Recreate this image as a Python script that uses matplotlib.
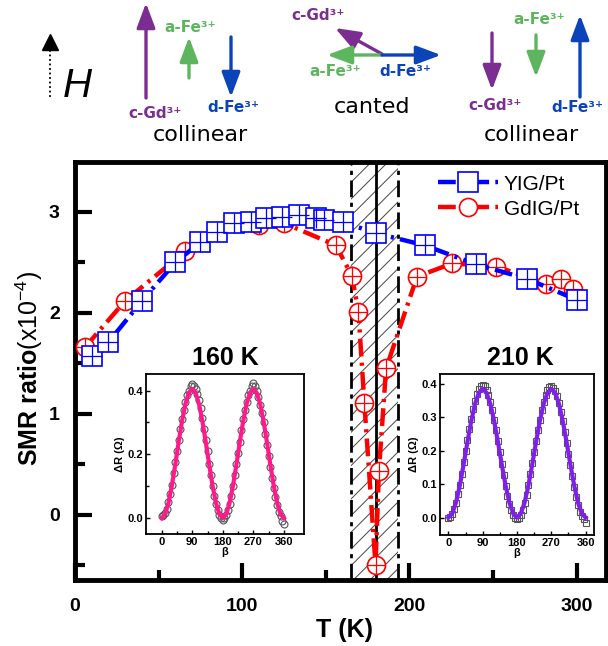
import matplotlib
matplotlib.use("Agg")
import matplotlib.pyplot as plt
from matplotlib.patches import FancyArrowPatch

plt.rcParams['font.family'] = ['Liberation Sans', 'DejaVu Sans']
plt.rcParams['mathtext.fontset'] = 'custom'
plt.rcParams['mathtext.rm'] = 'Liberation Sans'
plt.rcParams['hatch.linewidth'] = 0.7
plt.rcParams['hatch.color'] = '#444444'

# ---------------- data ----------------
yig_T = [10, 20, 40, 60, 75, 85, 95, 105, 114, 124, 134, 144, 149, 160, 180, 209, 240, 270, 300]
yig_smr = [1.57, 1.71, 2.12, 2.50, 2.70, 2.80, 2.89, 2.90, 2.94, 2.95, 2.97, 2.94, 2.92, 2.90,
           2.79, 2.67, 2.48, 2.34, 2.13]

gdig_T = [6, 30, 66, 96, 110, 125, 156, 165.5, 169.5, 173, 179.7, 181.7, 186, 204.5, 225.5,
          252, 281.5, 290.5, 297.5]
gdig_smr = [1.66, 2.12, 2.61, 2.89, 2.87, 2.89, 2.67, 2.37, 2.01, 1.11, -0.50, 0.43, 1.45, 2.36,
            2.49, 2.46, 2.29, 2.34, 2.24]

band_T = [165, 193]
comp_T = 180

x_ticks = [0, 100, 200, 300]
y_ticks = [0, 1, 2, 3]

beta_pts = [0, 5, 10, 15, 20, 25, 30, 35, 40, 45, 50, 55, 60, 65, 70, 75, 80, 85, 90,
            95, 100, 105, 110, 115, 120, 125, 130, 135, 140, 145, 150, 155, 160, 165, 170, 175, 180,
            185, 190, 195, 200, 205, 210, 215, 220, 225, 230, 235, 240, 245, 250, 255, 260, 265, 270,
            275, 280, 285, 290, 295, 300, 305, 310, 315, 320, 325, 330, 335, 340, 345, 350, 355, 360]
dR_160 = [0.005, 0.01, 0.015, 0.03, 0.05, 0.075, 0.105, 0.14, 0.175, 0.21, 0.245, 0.28, 0.31,
          0.34, 0.365, 0.385, 0.40, 0.415, 0.42, 0.415, 0.405, 0.39, 0.37, 0.345, 0.315, 0.28,
          0.245, 0.21, 0.17, 0.135, 0.10, 0.07, 0.045, 0.025, 0.01, 0.0, -0.005, 0.0, 0.01, 0.025,
          0.045, 0.07, 0.10, 0.135, 0.17, 0.205, 0.24, 0.275, 0.31, 0.34, 0.365, 0.385, 0.40, 0.415,
          0.425, 0.415, 0.40, 0.38, 0.355, 0.33, 0.30, 0.265, 0.23, 0.195, 0.16, 0.125, 0.095,
          0.065, 0.04, 0.02, 0.005, -0.01, -0.02]
dR_210 = [0.0, 0.002, 0.01, 0.025, 0.045, 0.07, 0.098, 0.13, 0.165, 0.198, 0.232, 0.265, 0.295,
          0.323, 0.348, 0.368, 0.383, 0.392, 0.395, 0.392, 0.382, 0.366, 0.345, 0.32, 0.292, 0.262,
          0.228, 0.195, 0.16, 0.128, 0.095, 0.066, 0.042, 0.022, 0.008, 0.0, -0.003, 0.0, 0.008,
          0.022, 0.043, 0.068, 0.097, 0.13, 0.163, 0.197, 0.23, 0.262, 0.293, 0.32, 0.345, 0.366,
          0.381, 0.39, 0.392, 0.388, 0.378, 0.362, 0.342, 0.316, 0.288, 0.257, 0.224, 0.19, 0.156,
          0.123, 0.092, 0.063, 0.038, 0.018, 0.005, -0.005, -0.015]

beta_fit = [0, 10, 20, 30, 40, 50, 60, 70, 80, 90, 100, 110, 120, 130, 140, 150, 160, 170, 180,
            190, 200, 210, 220, 230, 240, 250, 260, 270, 280, 290, 300, 310, 320, 330, 340, 350, 360]
fit_160 = [0.0, 0.012, 0.047, 0.101, 0.167, 0.238, 0.304, 0.358, 0.393, 0.405, 0.393, 0.358,
           0.304, 0.238, 0.167, 0.101, 0.047, 0.012, 0.0, 0.012, 0.047, 0.101, 0.167, 0.238, 0.304,
           0.358, 0.393, 0.405, 0.393, 0.358, 0.304, 0.238, 0.167, 0.101, 0.047, 0.012, 0.0]
fit_210 = [0.0, 0.012, 0.045, 0.096, 0.159, 0.226, 0.289, 0.340, 0.373, 0.385, 0.373, 0.340,
           0.289, 0.226, 0.159, 0.096, 0.045, 0.012, 0.0, 0.012, 0.045, 0.096, 0.159, 0.226, 0.289,
           0.340, 0.373, 0.385, 0.373, 0.340, 0.289, 0.226, 0.159, 0.096, 0.045, 0.012, 0.0]
beta_ticks = [0, 90, 180, 270, 360]

W, H = 608, 646
fig = plt.figure(figsize=(W / 100, H / 100), dpi=100)

def fx(px):
    return px / W

def fy(py):
    return 1 - py / H

# ---------------- main axes ----------------
ax = fig.add_axes([fx(75), fy(580), fx(606) - fx(75), fy(162) - fy(580)])
ax.set_xlim(0, 317.5)
ax.set_ylim(-0.645, 3.495)

ax.axvspan(band_T[0], band_T[1], facecolor='none', edgecolor='#444444', hatch='//', lw=0, zorder=1)
ls_dd = (0, (6, 2, 1.5, 2))
ax.axvline(band_T[0], color='black', lw=2.0, ls=ls_dd, zorder=2)
ax.axvline(band_T[1], color='black', lw=2.0, ls=ls_dd, zorder=2)
ax.axvline(comp_T, color='black', lw=2.0, zorder=2)

red = '#FF0000'
blue = '#0000FF'
data_ls = (0, (4, 1.4, 0.7, 1.4))
l_g, = ax.plot(gdig_T, gdig_smr, color=red, lw=3.2, ls=data_ls, marker='o', ms=13,
               mfc='white', mec=red, mew=1.2, zorder=3, label='GdIG/Pt')
ax.plot(gdig_T, gdig_smr, ls='none', marker='+', ms=13, mec=red, mew=0.9, zorder=3.1)
l_y, = ax.plot(yig_T, yig_smr, color=blue, lw=3.2, ls=data_ls, marker='s', ms=14,
               mfc='white', mec=blue, mew=1.2, zorder=4, label='YIG/Pt')
ax.plot(yig_T, yig_smr, ls='none', marker='+', ms=14, mec=blue, mew=0.9, zorder=4.1)

ax.set_xticks(x_ticks)
ax.set_xticks([50, 150, 250], minor=True)
ax.set_yticks(y_ticks)
ax.set_yticks([-0.5, 0.5, 1.5, 2.5], minor=True)
ax.tick_params(which='major', direction='in', length=12, width=3, labelsize=14, pad=11)
ax.tick_params(which='minor', direction='in', length=7, width=3)
ax.tick_params(axis='x', which='major', pad=13)
for lab in ax.get_xticklabels() + ax.get_yticklabels():
    lab.set_fontweight('bold')
for sp in ax.spines.values():
    sp.set_linewidth(3.5)

leg = ax.legend(handles=[l_y, l_g], loc='upper left', bbox_to_anchor=(0.672, 0.985),
                fontsize=15, frameon=True, framealpha=1, edgecolor='none', facecolor='white',
                handlelength=2.9, handletextpad=0.25, labelspacing=0.3, borderpad=0.3,
                borderaxespad=0, markerscale=1.0)
leg.set_zorder(6)

fig.text(fx(29), fy(368), 'SMR ratio' + r'$\mathrm{(x10^{-4})}$', rotation=90, ha='center',
         va='center', fontsize=18, fontweight='bold')
fig.text(fx(344), fy(630), 'T (K)', ha='center', va='center', fontsize=18, fontweight='bold')

# ---------------- insets ----------------
def make_inset(rect, xlim, ylim, yt, ymt, beta, d, fit, fitcolor, mk, title, tx, ty):
    ia = fig.add_axes(rect)
    ia.set_xlim(*xlim)
    ia.set_ylim(*ylim)
    ia.plot(beta, d, ls='none', marker=mk, ms=5, mfc='none', mec='#555555', mew=0.8, zorder=2)
    ia.plot(beta_fit, fit, color=fitcolor, lw=3.0, zorder=3)
    ia.set_xticks(beta_ticks)
    ia.set_xticks([45, 135, 225, 315], minor=True)
    ia.set_yticks(yt)
    if ymt:
        ia.set_yticks(ymt, minor=True)
    ia.tick_params(which='major', direction='in', length=3, width=1, labelsize=8, pad=2)
    ia.tick_params(which='minor', direction='in', length=2, width=1)
    for lab in ia.get_xticklabels() + ia.get_yticklabels():
        lab.set_fontweight('bold')
    for sp in ia.spines.values():
        sp.set_linewidth(1.3)
    ia.set_xlabel('β', fontsize=8, fontweight='bold', labelpad=0.5)
    ia.set_ylabel('ΔR (Ω)', fontsize=8, fontweight='bold', labelpad=2)
    fig.text(fx(tx), fy(ty), title, ha='center', va='center', fontsize=18, fontweight='bold')
    return ia

make_inset([fx(146), fy(534), fx(304) - fx(146), fy(374) - fy(534)], (-46, 419), (-0.05, 0.452),
           [0.0, 0.2, 0.4], [0.1, 0.3], beta_pts, dR_160, fit_160, '#FF1A8C', 'o', '160 K', 225, 358)
make_inset([fx(440), fy(535), fx(594) - fx(440), fy(374) - fy(535)], (-22, 382), (-0.052, 0.429),
           [0.0, 0.1, 0.2, 0.3, 0.4], None, beta_pts, dR_210, fit_210, '#7F1FE8', 's', '210 K', 520, 358)

# ---------------- schematic on top ----------------
sa = fig.add_axes([0, 0, 1, 1], zorder=10)
sa.set_xlim(0, W)
sa.set_ylim(H, 0)
sa.axis('off')
sa.patch.set_alpha(0)

purple = '#7B2D91'
green = '#5DB65D'
dblue = '#0B44B8'

def arrow(x0, y0, x1, y1, c):
    sa.add_patch(FancyArrowPatch((x0, y0), (x1, y1), arrowstyle='-|>,head_length=0.75,head_width=0.28',
                                 mutation_scale=20, color=c, lw=2.4, shrinkA=0, shrinkB=0))

# H field indicator
sa.plot([50, 50], [50, 97], color='black', lw=1.3, ls=(0, (1, 1.5)))
sa.plot([50], [42], marker='^', ms=11, color='black')
sa.text(77, 86, 'H', fontsize=29, fontstyle='italic', ha='center', va='center')

lab_kw = dict(fontsize=11, fontweight='bold', family=['DejaVu Sans'], ha='center', va='center')
# left collinear
arrow(146, 98, 146, 3, purple)
arrow(189, 78, 189, 37, green)
arrow(231, 37, 231, 97, dblue)
sa.text(190, 27, 'a-Fe³⁺', color=green, **lab_kw)
sa.text(155, 113, 'c-Gd³⁺', color=purple, **lab_kw)
sa.text(233, 107, 'd-Fe³⁺', color=dblue, **lab_kw)
sa.text(200, 135, 'collinear', fontsize=16, family=['DejaVu Sans'], ha='center', va='center')

# canted
arrow(382, 54, 335, 28, purple)
arrow(382, 55, 327, 55, green)
arrow(382, 55, 441, 55, dblue)
sa.text(318, 16, 'c-Gd³⁺', color=purple, **lab_kw)
sa.text(335, 72, 'a-Fe³⁺', color=green, **lab_kw)
sa.text(405, 72, 'd-Fe³⁺', color=dblue, **lab_kw)
sa.text(372, 107, 'canted', fontsize=16, family=['DejaVu Sans'], ha='center', va='center')

# right collinear
arrow(492, 33, 492, 90, purple)
arrow(536, 35, 536, 77, green)
arrow(580, 97, 580, 15, dblue)
sa.text(539, 20, 'a-Fe³⁺', color=green, **lab_kw)
sa.text(495, 105, 'c-Gd³⁺', color=purple, **lab_kw)
sa.text(577, 107, 'd-Fe³⁺', color=dblue, **lab_kw)
sa.text(531, 135, 'collinear', fontsize=16, family=['DejaVu Sans'], ha='center', va='center')

fig.savefig('out.png', dpi=100)
